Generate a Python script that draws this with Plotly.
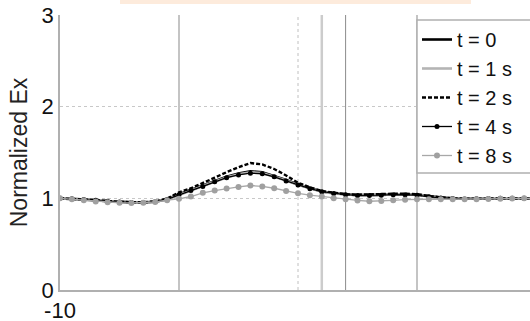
import plotly.graph_objects as go

# ---------------- data ----------------
x_vals = [-10, -9.5, -9, -8.5, -8, -7.5, -7, -6.5, -6, -5.5, -5, -4.5, -4, -3.5, -3, -2.5,
          -2, -1.5, -1, -0.5, 0, 0.5, 1, 1.5, 2, 2.5, 3, 3.5, 4, 4.5, 5, 5.5, 6, 6.5, 7,
          7.5, 8, 8.5, 9, 9.5, 10]

t0 = [1.00, 0.995, 0.99, 0.98, 0.97, 0.962, 0.956, 0.955, 0.962, 0.99, 1.045, 1.09, 1.14,
      1.19, 1.235, 1.27, 1.295, 1.285, 1.245, 1.20, 1.15, 1.11, 1.075, 1.055, 1.045, 1.035,
      1.035, 1.04, 1.045, 1.045, 1.04, 1.02, 1.008, 1.0, 0.996, 0.996, 1.0, 1.0, 1.0, 1.0, 1.0]

t1 = [1.00, 0.995, 0.99, 0.98, 0.97, 0.962, 0.957, 0.956, 0.962, 0.988, 1.04, 1.085, 1.135,
      1.185, 1.228, 1.262, 1.285, 1.277, 1.24, 1.195, 1.147, 1.107, 1.073, 1.053, 1.043, 1.034,
      1.034, 1.039, 1.044, 1.044, 1.038, 1.019, 1.007, 1.0, 0.996, 0.996, 1.0, 1.0, 1.0, 1.0, 1.0]

t2 = [1.00, 0.995, 0.99, 0.98, 0.97, 0.962, 0.957, 0.957, 0.966, 0.998, 1.065, 1.11, 1.165,
      1.225, 1.285, 1.34, 1.385, 1.37, 1.32, 1.25, 1.17, 1.12, 1.08, 1.06, 1.045, 1.04,
      1.045, 1.05, 1.05, 1.05, 1.045, 1.025, 1.01, 1.0, 0.996, 0.996, 1.0, 1.0, 1.0, 1.0, 1.0]

t4 = [1.00, 0.995, 0.988, 0.978, 0.968, 0.96, 0.955, 0.955, 0.962, 0.988, 1.04, 1.085, 1.13,
      1.18, 1.225, 1.255, 1.275, 1.268, 1.235, 1.19, 1.145, 1.105, 1.072, 1.052, 1.04, 1.032,
      1.03, 1.035, 1.04, 1.04, 1.035, 1.017, 1.005, 0.998, 0.994, 0.995, 0.998, 1.0, 1.0, 1.0, 1.0]

t8 = [1.00, 0.99, 0.98, 0.966, 0.958, 0.952, 0.95, 0.952, 0.96, 0.98, 0.995, 1.02, 1.06,
      1.085, 1.108, 1.125, 1.14, 1.13, 1.11, 1.08, 1.055, 1.035, 1.02, 1.0, 0.99, 0.977,
      0.968, 0.97, 0.978, 0.985, 0.99, 0.99, 0.99, 0.99, 0.99, 0.99, 0.993, 0.995, 0.997, 1.0, 1.0]

series_names = ["t = 0", "t = 1 s", "t = 2 s", "t = 4 s", "t = 8 s"]
y_ticks = [0, 1, 2, 3]
x_ticks = [-10]
x_tick_text = ["-10"]
marker_lines = [-5, 1, 2, 5]      # solid vertical reference lines
grid_x = [0]                     # dotted vertical grid line

# ---------------- figure ----------------
fig = go.Figure()

styles = [
    dict(line=dict(color="#000000", width=2.6), mode="lines"),
    dict(line=dict(color="#b4b4b4", width=2.6), mode="lines"),
    dict(line=dict(color="#000000", width=2.4, dash="4px,2px"), mode="lines"),
    dict(line=dict(color="#000000", width=1.3), mode="lines+markers",
         marker=dict(color="#000000", size=5)),
    dict(line=dict(color="#a8a8a8", width=1.3), mode="lines+markers",
         marker=dict(color="#a0a0a0", size=6)),
]
for name, ys, st in zip(series_names, [t0, t1, t2, t4, t8], styles):
    fig.add_trace(go.Scatter(x=x_vals, y=ys, name=name, **st))

shapes = []
# peach bar at top
shapes.append(dict(type="rect", xref="paper", yref="paper",
                   x0=(120 - 60) / 470, x1=(471 - 60) / 470,
                   y0=(290 - 4) / 275, y1=(290 + 0) / 275 + 0.02,
                   fillcolor="#fdebdc", line=dict(width=0), layer="above"))
# vertical lines
line_styles = {-5: ("#b0b0b0", 1.5), 1: ("#cccccc", 2.5), 2: ("#8c8c8c", 1.0), 5: ("#b0b0b0", 1.5)}
for xv in marker_lines:
    c, w = line_styles[xv]
    shapes.append(dict(type="line", xref="x", yref="y", x0=xv, x1=xv, y0=0, y1=3,
                       line=dict(color=c, width=w), layer="below"))
for xv in grid_x:
    shapes.append(dict(type="line", xref="x", yref="y", x0=xv, x1=xv, y0=0, y1=3,
                       line=dict(color="#c0c0c0", width=1, dash="dot"), layer="below"))
# legend box
shapes.append(dict(type="rect", xref="paper", yref="paper",
                   x0=(417 - 60) / 470, x1=1.1,
                   y0=(290 - 173) / 275, y1=(290 - 20) / 275,
                   fillcolor="white", line=dict(color="#b0b0b0", width=1.5), layer="above"))

fig.update_layout(
    width=530, height=321,
    margin=dict(l=60, r=0, t=15, b=31, autoexpand=False),
    paper_bgcolor="white", plot_bgcolor="white",
    font=dict(family="Liberation Sans, Arial, sans-serif", color="#111111"),
    shapes=shapes,
    showlegend=True,
    legend=dict(x=(417 - 60) / 470, y=(290 - 20) / 275, xanchor="left", yanchor="top",
                bgcolor="rgba(0,0,0,0)", borderwidth=0,
                font=dict(size=20, color="#111111", family="Liberation Sans, Arial, sans-serif")),
)
fig.update_xaxes(range=[-10, -10 + 470 / 23.8], tickvals=x_tick_text and x_ticks,
                 ticktext=x_tick_text, showgrid=False, zeroline=False,
                 showline=True, linecolor="#b0b0b0", linewidth=1.5, ticks="",
                 tickfont=dict(size=22, color="#111111"))
fig.update_yaxes(range=[0, 3], tickvals=y_ticks, showgrid=True, gridcolor="#c8c8c8",
                 griddash="dot", gridwidth=1, zeroline=False,
                 showline=True, linecolor="#b0b0b0", linewidth=1.5, ticks="",
                 tickfont=dict(size=22, color="#111111"),
                 title=dict(text="Normalized Ex", font=dict(size=23, color="#222222"), standoff=8))

fig.write_html("out.html")
